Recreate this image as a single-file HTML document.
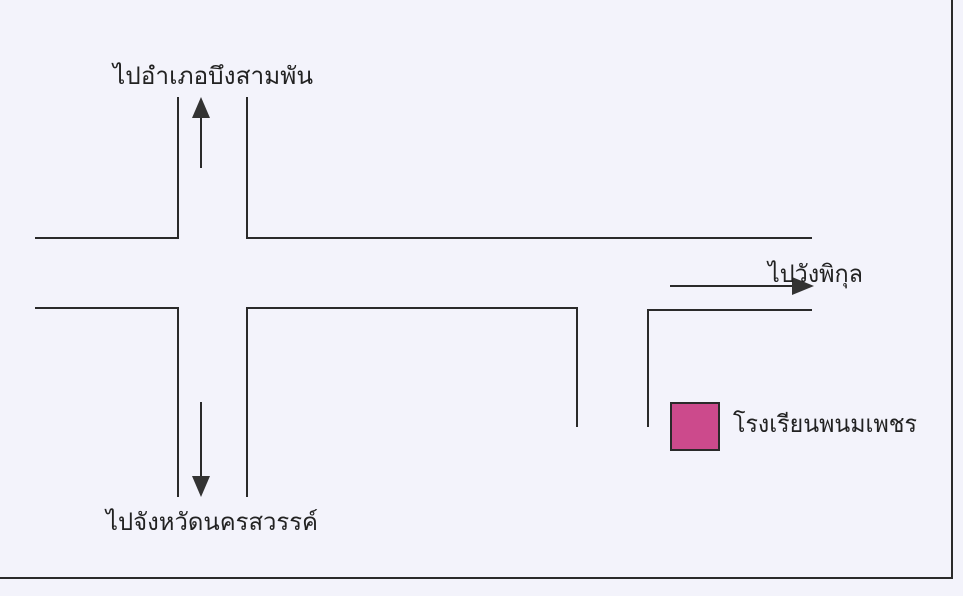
<!DOCTYPE html>
<html><head><meta charset="utf-8"><style>
html,body{margin:0;padding:0;background:#f3f3fb;}
svg{display:block;}
text{font-family:"Liberation Serif","DejaVu Serif",serif;font-size:24px;fill:#222;}
</style></head><body>
<svg width="963" height="596" viewBox="0 0 963 596">
<rect width="963" height="596" fill="#f3f3fb"/>
<g stroke="#2a2a2a" stroke-width="2" fill="none">
<polyline points="952,0 952,578 0,578"/>
<polyline points="35,238 178,238 178,97"/>
<polyline points="247,97 247,238 812,238"/>
<polyline points="35,308 178,308 178,497"/>
<polyline points="247,497 247,308 577,308 577,427"/>
<polyline points="648,427 648,310 812,310"/>
<line x1="201" y1="168" x2="201" y2="115"/>
<line x1="201" y1="402" x2="201" y2="478"/>
<line x1="670" y1="286" x2="795" y2="286"/>
</g>
<g fill="#333">
<polygon points="201,97 192,118 210,118"/>
<polygon points="201,497 192,476 210,476"/>
<polygon points="814,286 792,277 792,295"/>
</g>
<rect x="671" y="403" width="48" height="47" fill="#cc4a8c" stroke="#2a2a2a" stroke-width="2"/>
<text x="113" y="84" textLength="200" lengthAdjust="spacingAndGlyphs">ไปอำเภอบึงสามพัน</text>
<text x="106" y="530" textLength="212" lengthAdjust="spacingAndGlyphs">ไปจังหวัดนครสวรรค์</text>
<text x="768" y="282" textLength="95" lengthAdjust="spacingAndGlyphs">ไปวังพิกุล</text>
<text x="733" y="432" textLength="184" lengthAdjust="spacingAndGlyphs">โรงเรียนพนมเพชร</text>
</svg>
</body></html>
